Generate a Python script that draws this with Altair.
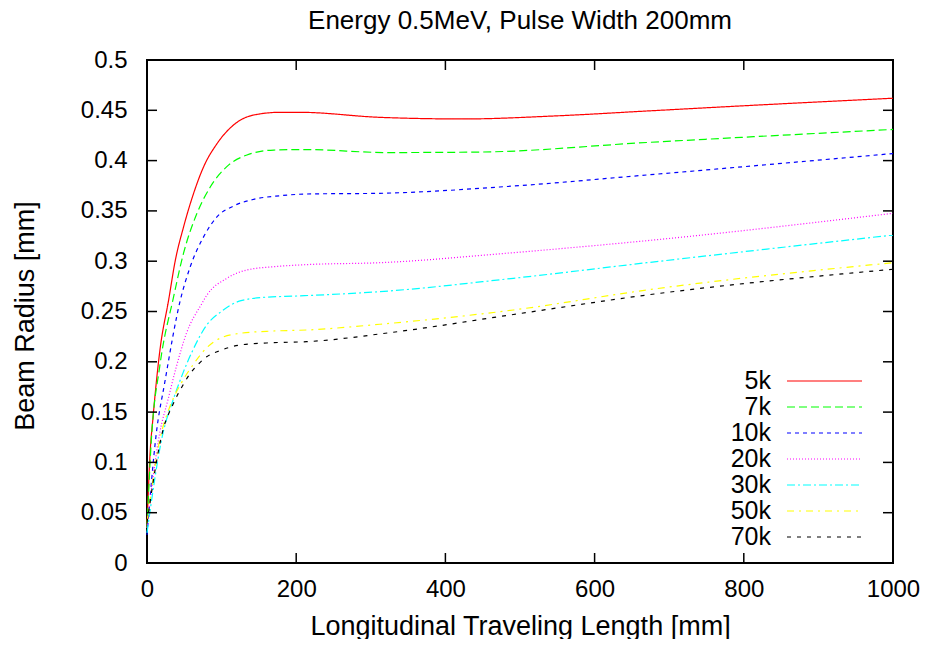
import altair as alt
import pandas as pd

FONT = "Liberation Sans"

title_text = ["Energy 0.5MeV, Pulse Width 200mm"]

series = ["5k", "7k", "10k", "20k", "30k", "50k", "70k"]
colors = ["#ff0000", "#00ff00", "#0000ff", "#ff00ff", "#00ffff", "#ffff00", "#000000"]
dashes = [[1, 0], [8, 4], [4, 4], [1, 2], [8, 3, 2, 3], [7, 5, 2, 5], [4, 6]]

x_5k = [0, 3.6, 8.5, 17.4, 29, 38, 49, 62.5, 76, 94, 116, 143, 178.7, 205, 312, 424, 550, 670, 800, 1000]
y_5k = [0.035, 0.102, 0.148, 0.212, 0.2614, 0.301, 0.334, 0.3675, 0.394, 0.417, 0.4354, 0.4453, 0.448, 0.448, 0.443, 0.4414, 0.4445, 0.4493, 0.4545, 0.462]

x_7k = [0, 5.8, 17, 35.7, 49, 67, 85, 107, 134, 170, 214, 321, 446, 670, 1000]
y_7k = [0.035, 0.122, 0.195, 0.2647, 0.308, 0.3476, 0.374, 0.394, 0.4056, 0.4105, 0.411, 0.408, 0.4085, 0.418, 0.431]

x_10k = [0, 12.5, 23.7, 44.7, 58, 76, 94, 116, 143, 178.7, 214, 312, 491, 670, 1000]
y_10k = [0.028, 0.129, 0.179, 0.2614, 0.2945, 0.3244, 0.3443, 0.3549, 0.3615, 0.3651, 0.3668, 0.3675, 0.3747, 0.3857, 0.407]

x_20k = [0, 17, 28, 39.3, 52.7, 72.8, 80.4, 107, 134, 170, 214, 312, 491, 670, 1000]
y_20k = [0.035, 0.129, 0.162, 0.195, 0.228, 0.257, 0.2664, 0.283, 0.2913, 0.2945, 0.2966, 0.2985, 0.3085, 0.3204, 0.3476]

x_30k = [0, 21.4, 35, 48.3, 61.7, 79.5, 99.6, 124.7, 156, 201, 312, 491, 670, 1000]
y_30k = [0.03, 0.129, 0.162, 0.189, 0.212, 0.236, 0.250, 0.2605, 0.264, 0.2654, 0.2697, 0.283, 0.2985, 0.326]

x_50k = [0, 17, 30.4, 46, 61.7, 75, 93.4, 124.7, 169, 214, 312, 491, 670, 1000]
y_50k = [0.04, 0.122, 0.155, 0.179, 0.197, 0.210, 0.2217, 0.2283, 0.2306, 0.2316, 0.2373, 0.2515, 0.2714, 0.2985]

x_70k = [0, 21.4, 35, 48.3, 57.6, 70.6, 80, 97.4, 124.7, 169, 214, 326, 491, 670, 1000]
y_70k = [0.04, 0.132, 0.158, 0.177, 0.188, 0.199, 0.205, 0.211, 0.2167, 0.219, 0.22, 0.229, 0.247, 0.2664, 0.292]

x_ticks = [0, 200, 400, 600, 800, 1000]
y_ticks = [0, 0.05, 0.1, 0.15, 0.2, 0.25, 0.3, 0.35, 0.4, 0.45, 0.5]

xs = [x_5k, x_7k, x_10k, x_20k, x_30k, x_50k, x_70k]
ys = [y_5k, y_7k, y_10k, y_20k, y_30k, y_50k, y_70k]
frames = []
for name, xv, yv in zip(series, xs, ys):
    frames.append(pd.DataFrame({"x": xv, "y": yv, "series": name}))
df = pd.concat(frames, ignore_index=True)

W, H = 746, 503

xscale = alt.Scale(domain=[0, 1000], nice=False, zero=False)
yscale = alt.Scale(domain=[0, 0.5], nice=False, zero=False)
xaxis = alt.Axis(values=x_ticks, title="Longitudinal Traveling Length [mm]", format="d",
                 labelPadding=14, labelFlush=False, titleX=W / 2, titleY=71,
                 titleBaseline="alphabetic", titleAlign="center")
yaxis = alt.Axis(values=y_ticks, title="Beam Radius [mm]", format="~g",
                 labelPadding=20, labelFlush=False, titleX=-114, titleY=H / 2 + 4,
                 titleBaseline="alphabetic", titleAlign="center", titleAngle=-90)

color_enc = alt.Color("series:N", scale=alt.Scale(domain=series, range=colors), legend=None)
dash_enc = alt.StrokeDash("series:N", scale=alt.Scale(domain=series, range=dashes), legend=None)

lines = alt.Chart(df).mark_line(strokeWidth=1.2, interpolate="monotone").encode(
    x=alt.X("x:Q", scale=xscale, axis=xaxis),
    y=alt.Y("y:Q", scale=yscale, axis=yaxis),
    color=color_enc,
    strokeDash=dash_enc,
    detail="series:N",
)

xt = pd.DataFrame({"x": x_ticks})
yt = pd.DataFrame({"y": y_ticks})

xt_bottom = alt.Chart(xt).mark_rule(color="black", strokeWidth=1.5).encode(
    x=alt.X("x:Q", scale=xscale, axis=xaxis), y=alt.value(H), y2=alt.value(H - 10))
xt_top = alt.Chart(xt).mark_rule(color="black", strokeWidth=1.5).encode(
    x=alt.X("x:Q", scale=xscale, axis=xaxis), y=alt.value(0), y2=alt.value(10))
yt_left = alt.Chart(yt).mark_rule(color="black", strokeWidth=1.5).encode(
    y=alt.Y("y:Q", scale=yscale, axis=yaxis), x=alt.value(0), x2=alt.value(10))
yt_right = alt.Chart(yt).mark_rule(color="black", strokeWidth=1.5).encode(
    y=alt.Y("y:Q", scale=yscale, axis=yaxis), x=alt.value(W), x2=alt.value(W - 10))

title_mark = alt.Chart(pd.DataFrame({"t": title_text})).mark_text(
    align="center", baseline="alphabetic", fontSize=26, font=FONT, color="black"
).encode(x=alt.value(W / 2), y=alt.value(-31), text="t:N")

main = alt.layer(lines, xt_bottom, xt_top, yt_left, yt_right, title_mark)

leg_df = pd.DataFrame({"series": series})
leg_y = alt.Y("series:N", scale=alt.Scale(type="point", domain=series, range=[321, 477], padding=0), axis=None)
leg_rule = alt.Chart(leg_df).mark_rule(strokeWidth=1.2).encode(
    x=alt.value(640), x2=alt.value(715), y=leg_y, color=color_enc, strokeDash=dash_enc)
leg_text = alt.Chart(leg_df).mark_text(align="right", baseline="middle", fontSize=25, font=FONT,
                                       color="black").encode(
    x=alt.value(624), y=leg_y, text="series:N")
legend = alt.layer(leg_rule, leg_text)

chart = alt.layer(main, legend).resolve_scale(y="independent").properties(
    width=W, height=H,
    padding={"left": 139, "top": 52, "right": 29, "bottom": 76},
    autosize=alt.AutoSizeParams(type="none"),
).configure_view(stroke="black", strokeWidth=2).configure_axis(
    domain=False, grid=False, ticks=False, tickSize=0,
    labelFont=FONT, titleFont=FONT, labelFontSize=24, titleFontSize=27,
    labelColor="black", titleColor="black", titleFontWeight="normal",
)

chart.save("out.html", embed_options={"renderer": "svg", "actions": False})
